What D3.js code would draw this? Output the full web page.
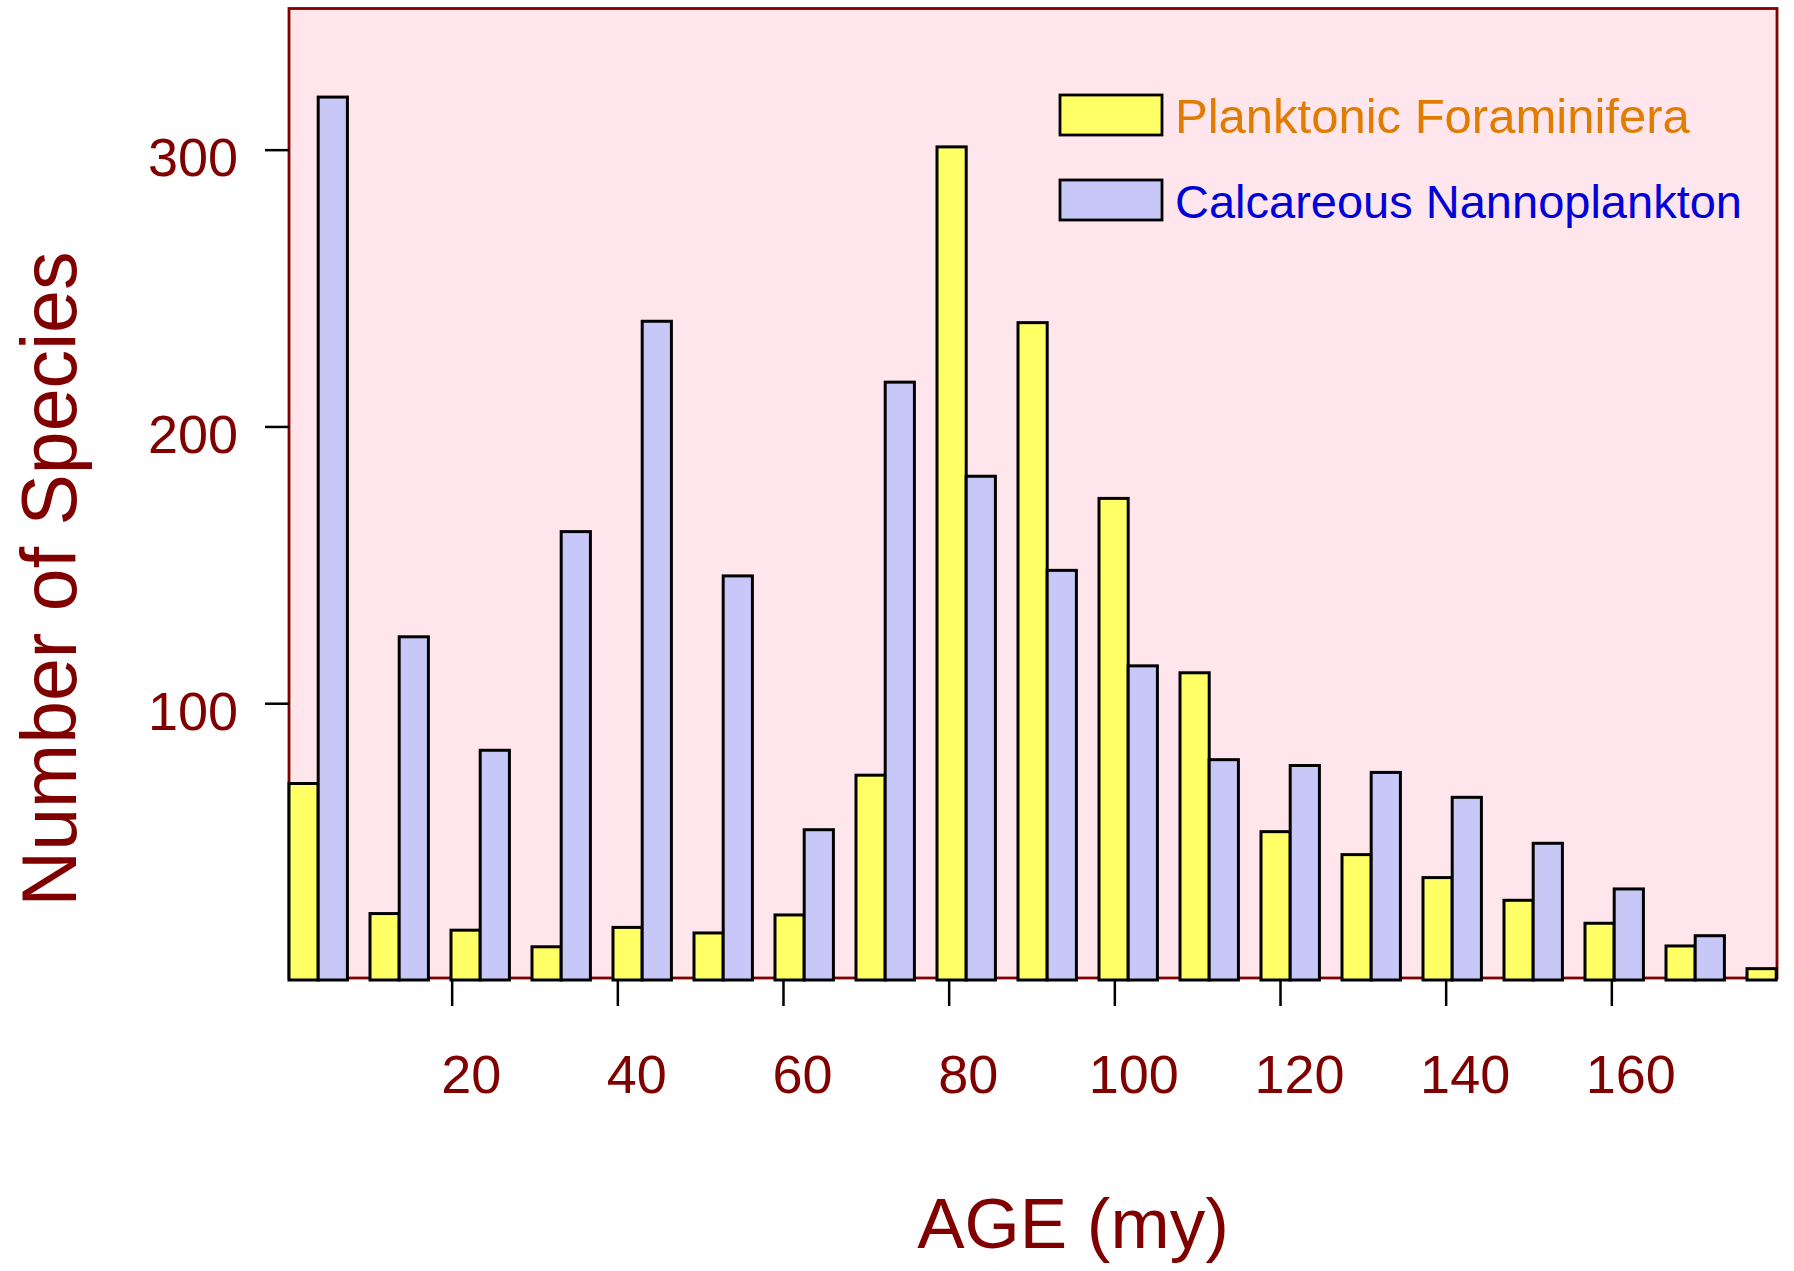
<!DOCTYPE html>
<html>
<head>
<meta charset="utf-8">
<script src="https://cdn.jsdelivr.net/npm/d3@7"></script>
<style>
  html, body { margin: 0; padding: 0; background: #ffffff; }
  svg { display: block; }
</style>
</head>
<body>
<svg id="chart" width="1794" height="1271"></svg>
<script>
// ---------------- DATA ----------------
const categories = ["0-10","10-20","20-29","29-39","39-49","49-59","59-69","69-78","78-88","88-98",
                    "98-108","108-118","118-127","127-137","137-147","147-157","157-166","166-176","176-186"];
const seriesNames = ["Planktonic Foraminifera", "Calcareous Nannoplankton"];
const foraminifera  = [71, 24, 18, 12, 19, 17, 23.5, 74, 301, 237.5, 174, 111, 53.6, 45.3, 37, 28.8, 20.5, 12.3, 4.1];
const nannoplankton = [319, 124, 83, 162, 238, 146, 54.3, 216, 182, 148, 113.5, 79.6, 77.5, 75, 66, 49.4, 32.9, 16, null];
const yTickValues = [100, 200, 300];
const xTickValues = [20, 40, 60, 80, 100, 120, 140, 160];
const xTitle = "AGE (my)";
const yTitle = "Number of Species";

// ---------------- LAYOUT / STYLE ----------------
const FONT = "'Comic Sans MS', 'Liberation Sans', Arial, sans-serif";
const DARKRED = "#800000";
const plot = { left: 289, right: 1777, top: 8.5, bottom: 980 };
const colors = { "Planktonic Foraminifera": "#FFFF66", "Calcareous Nannoplankton": "#C8C8F8" };
const textColors = { "Planktonic Foraminifera": "#E07C00", "Calcareous Nannoplankton": "#0000D8" };

const svg = d3.select("#chart");

// Scales
const y = d3.scaleLinear().domain([0, 351]).range([plot.bottom, plot.top]);
const age = d3.scaleLinear().domain([0, 180]).range([plot.left - 3, plot.right]);

const groupStep = 81, groupWidth = 58.4;
const padInner = 1 - groupWidth / groupStep;
const xBand = d3.scaleBand()
  .domain(categories)
  .range([plot.left, plot.left + groupStep * (categories.length - padInner)])
  .paddingInner(padInner)
  .paddingOuter(0)
  .align(0);
const xSub = d3.scaleBand().domain(seriesNames).range([0, xBand.bandwidth()]).padding(0);

// Plot background and frame
svg.append("rect")
  .attr("x", plot.left).attr("y", plot.top)
  .attr("width", plot.right - plot.left)
  .attr("height", (plot.bottom - 2) - plot.top)
  .attr("fill", "#FFE6EC")
  .attr("stroke", DARKRED)
  .attr("stroke-width", 2.8);

// Bars
const rows = categories.map((c, i) => ({ cat: c, values: [
  { series: seriesNames[0], value: foraminifera[i] },
  { series: seriesNames[1], value: nannoplankton[i] }
]}));

const groups = svg.append("g").selectAll("g")
  .data(rows).join("g")
  .attr("transform", d => `translate(${xBand(d.cat)},0)`);

groups.selectAll("rect")
  .data(d => d.values.filter(v => v.value != null))
  .join("rect")
  .attr("x", d => xSub(d.series))
  .attr("width", xSub.bandwidth())
  .attr("y", d => y(d.value))
  .attr("height", d => y(0) - y(d.value))
  .attr("fill", d => colors[d.series])
  .attr("stroke", "#000")
  .attr("stroke-width", 3);

// Y axis (ticks outside the frame on the left)
const yAxis = svg.append("g")
  .attr("transform", `translate(${plot.left},0)`)
  .call(d3.axisLeft(y).tickValues(yTickValues).tickSize(24).tickPadding(27).tickFormat(d3.format("d")));
yAxis.select(".domain").remove();
yAxis.selectAll(".tick line").attr("stroke", "#000").attr("stroke-width", 2.5);
yAxis.selectAll(".tick text")
  .attr("fill", DARKRED)
  .attr("font-family", FONT)
  .attr("font-size", 54)
  .attr("dy", "0.48em");

// X axis (ticks below the baseline, labels shifted right)
const xAxis = svg.append("g")
  .attr("transform", `translate(0,${plot.bottom})`)
  .call(d3.axisBottom(age).tickValues(xTickValues).tickSize(26).tickPadding(0).tickFormat(d3.format("d")));
xAxis.select(".domain").remove();
xAxis.selectAll(".tick line").attr("stroke", "#000").attr("stroke-width", 2.5);
xAxis.selectAll(".tick text")
  .attr("fill", DARKRED)
  .attr("font-family", FONT)
  .attr("font-size", 54)
  .attr("x", 19)
  .attr("y", 113)
  .attr("dy", 0);

// Axis titles
svg.append("text")
  .attr("x", 1073).attr("y", 1248)
  .attr("text-anchor", "middle")
  .attr("fill", DARKRED)
  .attr("font-family", FONT)
  .attr("font-size", 71)
  .text(xTitle);

svg.append("text")
  .attr("transform", "translate(76,579) rotate(-90)")
  .attr("text-anchor", "middle")
  .attr("fill", DARKRED)
  .attr("font-family", FONT)
  .attr("font-size", 77)
  .text(yTitle);

// Legend
const legend = svg.append("g").attr("transform", "translate(1060,95)");
const li = legend.selectAll("g").data(seriesNames).join("g")
  .attr("transform", (d, i) => `translate(0,${i * 85})`);
li.append("rect")
  .attr("width", 102).attr("height", 40)
  .attr("fill", d => colors[d])
  .attr("stroke", "#000").attr("stroke-width", 2.8);
li.append("text")
  .attr("x", 115).attr("y", 38)
  .attr("fill", d => textColors[d])
  .attr("font-family", FONT)
  .attr("font-size", (d, i) => i === 0 ? 49 : 47)
  .text(d => d);
</script>
</body>
</html>
